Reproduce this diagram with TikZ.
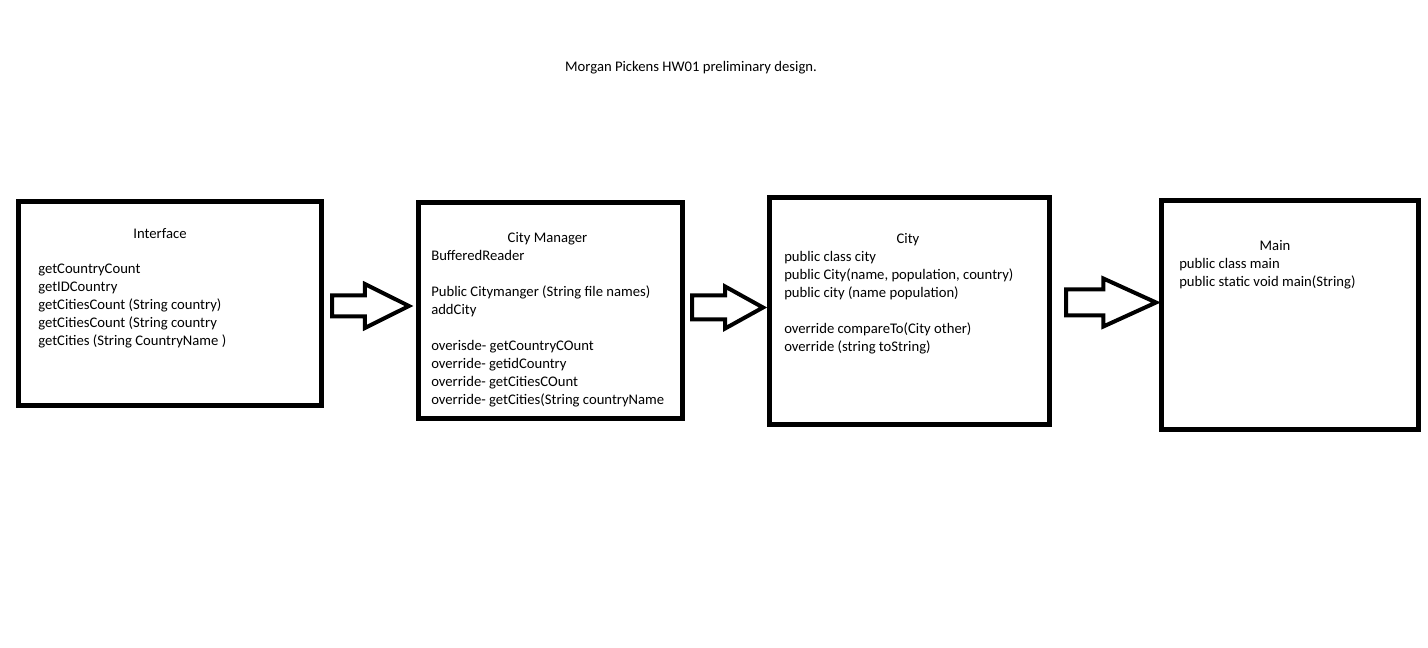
\documentclass[tikz,border=0pt]{standalone}
\usepackage{fontspec}
\setmainfont{Carlito}
\usetikzlibrary{shapes.arrows}
\begin{document}
\begin{tikzpicture}[x=0.75pt, y=-0.75pt,
	box/.style={draw, line width=3.75pt, inner sep=0pt},
	txt/.style={align=left, anchor=base west, inner sep=0pt, font=\fontsize{11}{13.5}\selectfont},
	ttl/.style={anchor=base, inner sep=0pt, font=\fontsize{11}{13.5}\selectfont},
	bigarrow/.style={single arrow, draw, line width=3pt, inner xsep=0pt, anchor=tail}]
	\useasboundingbox (0,0) rectangle (1428,648);

	\node[ttl] (heading) at (691,71.5) {Morgan Pickens HW01 preliminary design.};

	\node[box, minimum width=227.25pt, minimum height=153pt] (iface) at (170,303.5) {};
	\node[box, minimum width=198pt, minimum height=162pt] (mgr) at (550.5,310.5) {};
	\node[box, minimum width=210pt, minimum height=170.25pt] (city) at (909.5,311) {};
	\node[box, minimum width=192.75pt, minimum height=172.125pt] (mainbox) at (1290,315.25) {};

	\node[bigarrow, minimum height=57.75pt, inner ysep=6.375pt, single arrow head extend=8.625pt, single arrow tip angle=53] (arr1) at (330,306) {};
	\node[bigarrow, minimum height=53.25pt, inner ysep=7.5pt, single arrow head extend=6.75pt, single arrow tip angle=58] (arr2) at (690,307.5) {};
	\node[bigarrow, minimum height=67.5pt, inner ysep=8.25pt, single arrow head extend=8.25pt, single arrow tip angle=49] (arr3) at (1064,302.5) {};

	\node[ttl] (ifacettl) at (160,239) {Interface};
	\node[txt] (ifacetxt) at (38,346) {getCountryCount\\getIDCountry\\getCitiesCount (String country)\\getCitiesCount (String country\\getCities (String CountryName )};

	\node[ttl] (mgrttl) at (547.5,243) {City Manager};
	\node[txt] (mgrtxt) at (431,405) {BufferedReader\\[13.5pt]Public Citymanger (String file names)\\addCity\\[13.5pt]overisde- getCountryCOunt\\override- getidCountry\\override- getCitiesCOunt\\override- getCities(String countryName};

	\node[ttl] (cityttl) at (908,244) {City};
	\node[txt] (citytxt) at (784,352) {public class city\\public City(name, population, country)\\public city (name population)\\[13.5pt]override compareTo(City other)\\override (string toString)};

	\node[ttl] (mainttl) at (1275,251) {Main};
	\node[txt] (maintxt) at (1179,287) {public class main\\public static void main(String)};
\end{tikzpicture}
\end{document}
